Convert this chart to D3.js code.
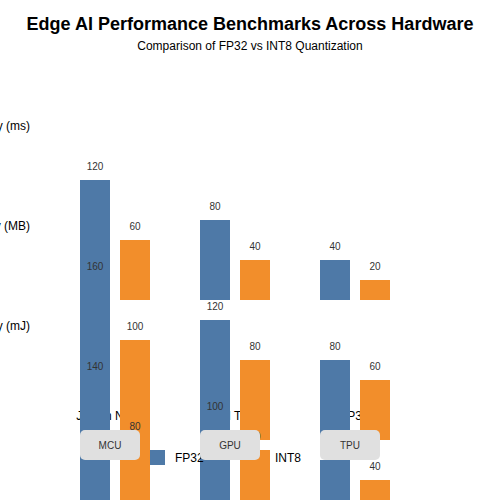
<!DOCTYPE html>
<html lang="en">
<head>
<meta charset="utf-8">
<script src="https://d3js.org/d3.v7.min.js"></script>
<style>
  body { margin: 0; font-family: "Liberation Sans", Arial, sans-serif; }
</style>
</head>
<body>
<script>
// data
const hardware = ["Jetson Nano", "Coral TPU", "ESP32"];
const hwType = ["MCU", "GPU", "TPU"];
const series = ["FP32", "INT8"];
const metrics = ["Latency (ms)", "Memory (MB)", "Energy (mJ)"];
const latencyFP32 = [120, 80, 40];
const latencyINT8 = [60, 40, 20];
const memoryFP32 = [160, 120, 80];
const memoryINT8 = [100, 80, 60];
const energyFP32 = [140, 100, 60];
const energyINT8 = [80, 70, 40];

const width = 500, height = 500;
const colors = { FP32: "#4e79a7", INT8: "#f28e2b" };

const svg = d3.select("body").append("svg")
    .attr("width", width)
    .attr("height", height);

svg.append("text")
    .attr("x", 250).attr("y", 30)
    .attr("text-anchor", "middle")
    .style("font-size", "18px").style("font-weight", "bold")
    .text("Edge AI Performance Benchmarks Across Hardware");
svg.append("text")
    .attr("x", 250).attr("y", 50)
    .attr("text-anchor", "middle")
    .style("font-size", "12px")
    .text("Comparison of FP32 vs INT8 Quantization");

const x0 = d3.scaleBand().domain(hardware).range([80, 440]);
const x1 = d3.scaleBand().domain(series).range([0, 70]).paddingInner(0.25);

// metric labels
svg.selectAll(".metric")
    .data(metrics)
    .enter().append("text")
    .attr("x", 30)
    .attr("y", (d, i) => 130 + i * 100)
    .attr("text-anchor", "end")
    .style("font-size", "12px")
    .text(d => d);

// hardware names (drawn under bars)
svg.selectAll(".hw")
    .data(hardware)
    .enter().append("text")
    .attr("x", d => x0(d) + 30)
    .attr("y", 420)
    .attr("text-anchor", "middle")
    .style("font-size", "12px")
    .text(d => d);

const panels = [
  { base: 300, fp: latencyFP32, int: latencyINT8 },
  { base: 440, fp: memoryFP32, int: memoryINT8 },
  { base: 520, fp: energyFP32, int: energyINT8 }
];

panels.forEach(p => {
  const y = d3.scaleLinear().domain([0, 200]).range([p.base, p.base - 200]);
  const rows = [];
  hardware.forEach((h, i) => {
    rows.push({ h, s: "FP32", v: p.fp[i] });
    rows.push({ h, s: "INT8", v: p.int[i] });
  });
  const g = svg.append("g");
  g.selectAll("rect").data(rows).enter().append("rect")
    .attr("x", d => x0(d.h) + x1(d.s))
    .attr("y", d => y(d.v))
    .attr("width", x1.bandwidth())
    .attr("height", d => y(0) - y(d.v))
    .attr("fill", d => colors[d.s]);
  g.selectAll("text").data(rows).enter().append("text")
    .attr("x", d => x0(d.h) + x1(d.s) + x1.bandwidth() / 2)
    .attr("y", d => y(d.v) - 10)
    .attr("text-anchor", "middle")
    .style("font-size", "10px")
    .style("fill", "#333")
    .text(d => d.v);
});

// legend
const legend = svg.append("g");
series.forEach((s, i) => {
  legend.append("rect")
    .attr("x", 150 + i * 100).attr("y", 450)
    .attr("width", 15).attr("height", 15)
    .attr("fill", colors[s]);
  legend.append("text")
    .attr("x", 175 + i * 100).attr("y", 462)
    .style("font-size", "12px")
    .text(s);
});

// hardware type pills
const pills = svg.selectAll(".pill").data(hardware).enter().append("g");
pills.append("rect")
    .attr("x", d => x0(d)).attr("y", 430)
    .attr("width", 60).attr("height", 30)
    .attr("rx", 5)
    .attr("fill", "#e0e0e0");
pills.append("text")
    .attr("x", d => x0(d) + 30).attr("y", 449)
    .attr("text-anchor", "middle")
    .style("font-size", "10px")
    .style("fill", "#333")
    .text((d, i) => hwType[i]);
</script>
</body>
</html>
